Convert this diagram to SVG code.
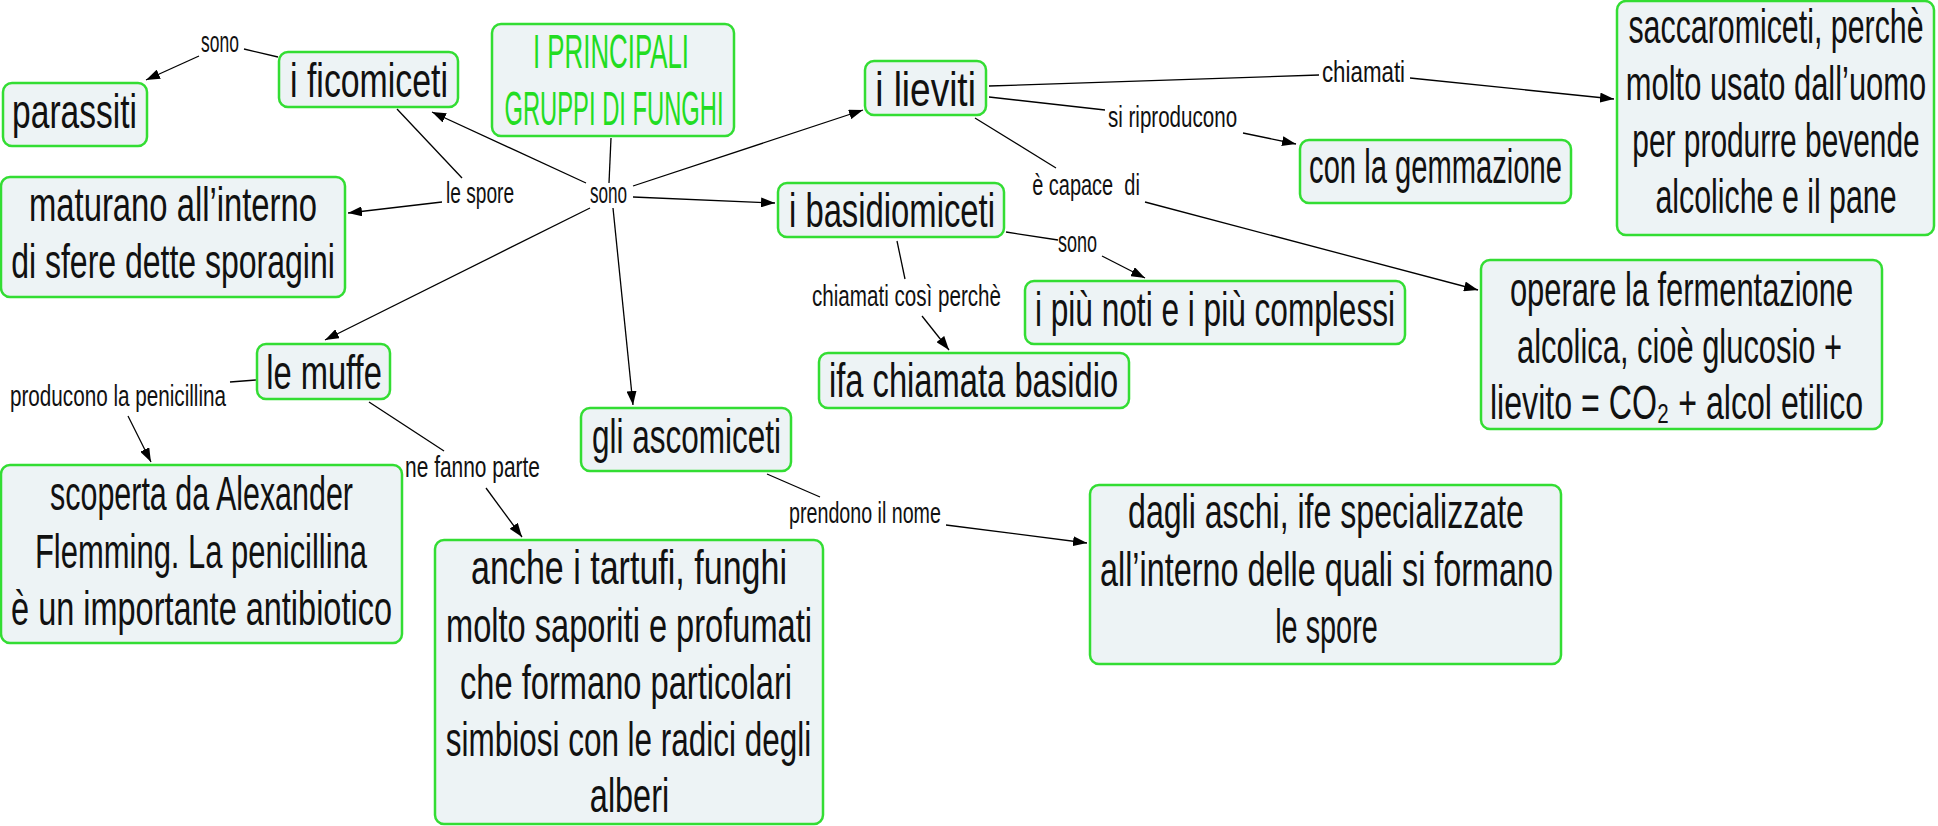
<svg xmlns="http://www.w3.org/2000/svg" width="1938" height="826" viewBox="0 0 1938 826">
<style>
.box{fill:#edf3f5;stroke:#33dd33;stroke-width:2.5}
.t{font-family:"Liberation Sans",Arial,sans-serif;font-size:48px;fill:#111;text-anchor:middle}
.title{fill:#22dd22}
.lab{font-family:"Liberation Sans",Arial,sans-serif;font-size:30px;fill:#111;text-anchor:middle}
.c{stroke:#000;stroke-width:1.3;fill:none}
.a{marker-end:url(#ah)}
</style>
<defs>
<marker id="ah" viewBox="0 0 14 10" refX="14" refY="5" markerWidth="14" markerHeight="10" markerUnits="userSpaceOnUse" orient="auto">
<path d="M0,0 L14,5 L0,10 z" fill="#000"/>
</marker>
</defs>
<rect width="1938" height="826" fill="#fff"/>
<g id="connectors">
<line class="c" x1="278" y1="57" x2="244" y2="49"/>
<line class="c a" x1="199" y1="56" x2="146" y2="80"/>
<line class="c" x1="397" y1="109" x2="462" y2="178"/>
<line class="c a" x1="442" y1="202" x2="348" y2="213"/>
<line class="c" x1="611" y1="138" x2="609" y2="183"/>
<line class="c a" x1="586" y1="183" x2="432" y2="112"/>
<line class="c a" x1="633" y1="186" x2="863" y2="110"/>
<line class="c a" x1="633" y1="197" x2="775" y2="203"/>
<line class="c a" x1="590" y1="208" x2="325" y2="340"/>
<line class="c a" x1="613" y1="208" x2="633" y2="405"/>
<line class="c" x1="989" y1="86" x2="1319" y2="75"/>
<line class="c a" x1="1410" y1="78" x2="1614" y2="99"/>
<line class="c" x1="989" y1="97" x2="1105" y2="110"/>
<line class="c a" x1="1243" y1="133" x2="1296" y2="144"/>
<line class="c" x1="975" y1="118" x2="1056" y2="168"/>
<line class="c a" x1="1145" y1="202" x2="1478" y2="290"/>
<line class="c" x1="1006" y1="232" x2="1058" y2="240"/>
<line class="c a" x1="1102" y1="256" x2="1145" y2="278"/>
<line class="c" x1="897" y1="241" x2="905" y2="279"/>
<line class="c a" x1="922" y1="316" x2="949" y2="350"/>
<line class="c" x1="256" y1="380" x2="230" y2="382"/>
<line class="c a" x1="128" y1="416" x2="151" y2="462"/>
<line class="c" x1="369" y1="402" x2="444" y2="451"/>
<line class="c a" x1="486" y1="488" x2="522" y2="537"/>
<line class="c" x1="767" y1="474" x2="820" y2="497"/>
<line class="c a" x1="946" y1="525" x2="1087" y2="543"/>
</g>
<g id="labels">
<text class="lab" transform="matrix(0.63 0 0 1 220 52)" textLength="60" lengthAdjust="spacingAndGlyphs">sono</text>
<text class="lab" transform="matrix(0.63 0 0 1 480 203)" textLength="108" lengthAdjust="spacingAndGlyphs">le spore</text>
<text class="lab" transform="matrix(0.63 0 0 1 608.5 203)" textLength="59" lengthAdjust="spacingAndGlyphs">sono</text>
<text class="lab" transform="matrix(0.63 0 0 1 1363.5 82)" textLength="132" lengthAdjust="spacingAndGlyphs">chiamati</text>
<text class="lab" transform="matrix(0.63 0 0 1 1172.5 127)" textLength="205" lengthAdjust="spacingAndGlyphs">si riproducono</text>
<text class="lab" transform="matrix(0.63 0 0 1 1086 195)" textLength="171" lengthAdjust="spacingAndGlyphs" xml:space="preserve">è capace  di</text>
<text class="lab" transform="matrix(0.63 0 0 1 1077.5 252)" textLength="62" lengthAdjust="spacingAndGlyphs">sono</text>
<text class="lab" transform="matrix(0.63 0 0 1 906.5 306)" textLength="300" lengthAdjust="spacingAndGlyphs">chiamati così perchè</text>
<text class="lab" transform="matrix(0.63 0 0 1 118 406)" textLength="343" lengthAdjust="spacingAndGlyphs">producono la penicillina</text>
<text class="lab" transform="matrix(0.63 0 0 1 472.5 477)" textLength="214" lengthAdjust="spacingAndGlyphs">ne fanno parte</text>
<text class="lab" transform="matrix(0.63 0 0 1 865 523)" textLength="241" lengthAdjust="spacingAndGlyphs">prendono il nome</text>
</g>
<g id="n-title">
<rect class="box" x="492" y="24" width="242" height="112" rx="9"/>
<text class="t title" transform="matrix(0.65 0 0 1 611 68)" textLength="240" lengthAdjust="spacingAndGlyphs">I PRINCIPALI</text>
<text class="t title" transform="matrix(0.65 0 0 1 614 125)" textLength="337" lengthAdjust="spacingAndGlyphs">GRUPPI DI FUNGHI</text>
</g>
<g id="n-ficomiceti">
<rect class="box" x="279" y="52" width="179" height="55" rx="9"/>
<text class="t" transform="matrix(0.65 0 0 1 369 97)" textLength="243" lengthAdjust="spacingAndGlyphs">i ficomiceti</text>
</g>
<g id="n-parassiti">
<rect class="box" x="3" y="83" width="144" height="63" rx="9"/>
<text class="t" transform="matrix(0.65 0 0 1 74.5 128)" textLength="192" lengthAdjust="spacingAndGlyphs">parassiti</text>
</g>
<g id="n-maturano">
<rect class="box" x="1" y="177" width="344" height="120" rx="9"/>
<text class="t" transform="matrix(0.65 0 0 1 173 221)" textLength="443" lengthAdjust="spacingAndGlyphs">maturano all’interno</text>
<text class="t" transform="matrix(0.65 0 0 1 173 278)" textLength="498" lengthAdjust="spacingAndGlyphs">di sfere dette sporagini</text>
</g>
<g id="n-lieviti">
<rect class="box" x="865" y="61" width="121" height="54" rx="9"/>
<text class="t" transform="matrix(0.65 0 0 1 925.5 106)" textLength="155" lengthAdjust="spacingAndGlyphs">i lieviti</text>
</g>
<g id="n-basidiomiceti">
<rect class="box" x="778" y="183" width="226" height="54" rx="9"/>
<text class="t" transform="matrix(0.65 0 0 1 892 227)" textLength="317" lengthAdjust="spacingAndGlyphs">i basidiomiceti</text>
</g>
<g id="n-saccaromiceti">
<rect class="box" x="1617" y="1" width="317" height="234" rx="9"/>
<text class="t" transform="matrix(0.65 0 0 1 1776 43)" textLength="454" lengthAdjust="spacingAndGlyphs">saccaromiceti, perchè</text>
<text class="t" transform="matrix(0.65 0 0 1 1776 100)" textLength="462" lengthAdjust="spacingAndGlyphs">molto usato dall’uomo</text>
<text class="t" transform="matrix(0.65 0 0 1 1776 157)" textLength="442" lengthAdjust="spacingAndGlyphs">per produrre bevende</text>
<text class="t" transform="matrix(0.65 0 0 1 1776 213)" textLength="371" lengthAdjust="spacingAndGlyphs">alcoliche e il pane</text>
</g>
<g id="n-gemmazione">
<rect class="box" x="1300" y="140" width="271" height="63" rx="9"/>
<text class="t" transform="matrix(0.65 0 0 1 1435.5 183)" textLength="389" lengthAdjust="spacingAndGlyphs">con la gemmazione</text>
</g>
<g id="n-operare">
<rect class="box" x="1481" y="260" width="401" height="169" rx="9"/>
<text class="t" transform="matrix(0.65 0 0 1 1681.5 306)" textLength="528" lengthAdjust="spacingAndGlyphs">operare la fermentazione</text>
<text class="t" transform="matrix(0.65 0 0 1 1679.5 363)" textLength="500" lengthAdjust="spacingAndGlyphs">alcolica, cioè glucosio +</text>
<text class="t" transform="matrix(0.65 0 0 1 1676.5 419)" textLength="574" lengthAdjust="spacingAndGlyphs">lievito = CO₂ + alcol etilico</text>
</g>
<g id="n-piunoti">
<rect class="box" x="1025" y="281" width="380" height="63" rx="9"/>
<text class="t" transform="matrix(0.65 0 0 1 1215 326)" textLength="554" lengthAdjust="spacingAndGlyphs">i più noti e i più complessi</text>
</g>
<g id="n-ifa">
<rect class="box" x="819" y="353" width="310" height="55" rx="9"/>
<text class="t" transform="matrix(0.65 0 0 1 973.5 397)" textLength="445" lengthAdjust="spacingAndGlyphs">ifa chiamata basidio</text>
</g>
<g id="n-muffe">
<rect class="box" x="257" y="344" width="133" height="55" rx="9"/>
<text class="t" transform="matrix(0.65 0 0 1 324 389)" textLength="178" lengthAdjust="spacingAndGlyphs">le muffe</text>
</g>
<g id="n-scoperta">
<rect class="box" x="1" y="465" width="401" height="178" rx="9"/>
<text class="t" transform="matrix(0.65 0 0 1 201.5 510)" textLength="466" lengthAdjust="spacingAndGlyphs">scoperta da Alexander</text>
<text class="t" transform="matrix(0.65 0 0 1 201 568)" textLength="511" lengthAdjust="spacingAndGlyphs">Flemming. La penicillina</text>
<text class="t" transform="matrix(0.65 0 0 1 201.5 625)" textLength="586" lengthAdjust="spacingAndGlyphs">è un importante antibiotico</text>
</g>
<g id="n-ascomiceti">
<rect class="box" x="581" y="408" width="210" height="63" rx="9"/>
<text class="t" transform="matrix(0.65 0 0 1 686.5 453)" textLength="291" lengthAdjust="spacingAndGlyphs">gli ascomiceti</text>
</g>
<g id="n-anche">
<rect class="box" x="435" y="540" width="388" height="284" rx="9"/>
<text class="t" transform="matrix(0.65 0 0 1 629 584)" textLength="486" lengthAdjust="spacingAndGlyphs">anche i tartufi, funghi</text>
<text class="t" transform="matrix(0.65 0 0 1 629 642)" textLength="563" lengthAdjust="spacingAndGlyphs">molto saporiti e profumati</text>
<text class="t" transform="matrix(0.65 0 0 1 626 699)" textLength="511" lengthAdjust="spacingAndGlyphs">che formano particolari</text>
<text class="t" transform="matrix(0.65 0 0 1 628.5 756)" textLength="562" lengthAdjust="spacingAndGlyphs">simbiosi con le radici degli</text>
<text class="t" transform="matrix(0.65 0 0 1 629.5 812)" textLength="122" lengthAdjust="spacingAndGlyphs">alberi</text>
</g>
<g id="n-dagli">
<rect class="box" x="1090" y="485" width="471" height="179" rx="9"/>
<text class="t" transform="matrix(0.65 0 0 1 1326 528)" textLength="609" lengthAdjust="spacingAndGlyphs">dagli aschi, ife specializzate</text>
<text class="t" transform="matrix(0.65 0 0 1 1326.5 586)" textLength="697" lengthAdjust="spacingAndGlyphs">all’interno delle quali si formano</text>
<text class="t" transform="matrix(0.65 0 0 1 1326.5 643)" textLength="158" lengthAdjust="spacingAndGlyphs">le spore</text>
</g>
</svg>
